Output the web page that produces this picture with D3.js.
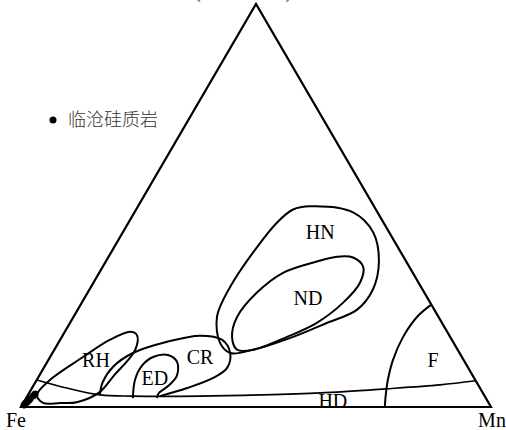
<!DOCTYPE html>
<html>
<head>
<meta charset="utf-8">
<script src="https://cdn.jsdelivr.net/npm/d3@7"></script>
<style>
  body { margin: 0; background: #fff; }
  svg { display: block; }
</style>
</head>
<body>
<svg id="chart"></svg>
<script>
const width = 506;
const height = 430;

// Vertex labels
const vertexLabels = ["Fe", "Mn", "(Ni+Co+Cu)×10"];

// Sample points: Fe, Mn, (Ni+Co+Cu)x10 in percent
const sampleFe = [99.1, 98.6, 98.1, 97.6, 97.1, 96.1, 95.4];
const sampleMn = [0.4, 0.5, 0.66, 0.8, 0.9, 1.2, 1.4];
const sampleNiCoCu = [0.5, 0.9, 1.24, 1.6, 2.0, 2.7, 3.2];

// Field boundaries as [Mn, (Ni+Co+Cu)x10] percent, Fe = 100 - both
const fieldHN = [[36.6, 49.8], [46.5, 48.3], [53.3, 43.3], [58.1, 36.1], [60.3, 29.1], [59.4, 24.1],
  [54.7, 20.9], [49.2, 17.4], [42.3, 14.2], [37.8, 13.4], [34.4, 15.9], [30.5, 22.4],
  [29.6, 29.9], [30.2, 38.3], [31.6, 45.8], [33.4, 49.0]];
const fieldND = [[52.1, 37.1], [55.4, 34.8], [56.7, 30.9], [55.6, 25.9], [52.5, 20.9], [47.9, 17.4],
  [42.3, 14.2], [38.9, 14.2], [36.2, 17.4], [34.8, 22.4], [36.0, 28.4], [39.1, 33.3],
  [44.9, 36.1], [48.6, 37.3]];
const fieldRH = [[15.7, 17.9], [17.2, 14.2], [15.8, 7.5], [14.9, 3.7], [11.3, 1.2], [7.8, 1.0],
  [4.2, 1.0], [1.9, 3.0], [2.8, 6.7], [7.0, 12.4], [10.6, 16.7], [13.9, 18.7]];
const fieldCR = [[15.2, 3.2], [14.3, 6.2], [14.6, 10.0], [17.1, 13.4], [23.0, 16.2], [29.3, 17.7],
  [34.4, 16.7], [37.8, 13.4], [39.0, 9.7], [37.3, 7.2], [33.0, 4.7], [28.2, 2.7]];
const fieldED = [[22.7, 2.2], [20.9, 6.7], [20.6, 10.2], [21.9, 12.4], [24.8, 12.9], [27.6, 11.2],
  [29.3, 7.7], [28.7, 5.2], [27.6, 3.5], [27.8, 2.2]];
const lineHD = [[0, 6.7], [7.4, 4.7], [15.3, 3.0], [22.5, 2.7], [36.7, 2.7], [49.4, 3.0],
  [61.9, 3.5], [75.2, 4.5], [86.4, 5.5], [93.5, 6.5]];
const lineF = [[74.6, 25.4], [73.1, 22.4], [72.6, 17.4], [73.3, 11.7], [74.7, 6.7], [75.9, 3.5], [77.4, 0]];

// Field names and where they sit, [Mn, (Ni+Co+Cu)x10]
const fieldNames = ["HN", "ND", "RH", "ED", "CR", "F", "HD"];
const fieldNamePos = [[41.9, 43.5], [47.5, 27.1], [10.1, 11.7], [24.9, 7.2], [31.9, 12.4], [81.8, 11.7], [65.6, 1.5]];

const svg = d3.select("#chart")
  .attr("width", width)
  .attr("height", height);

// Cartesian scales for the unit triangle
const x = d3.scaleLinear().domain([0, 1]).range([21, 491]);
const y = d3.scaleLinear().domain([0, 1]).range([407, 4]);

// ternary (mn, t in percent) -> pixel
function project(mn, t) {
  const a = mn / 100, c = t / 100;
  return [x(a + c / 2), y(c)];
}

const line = d3.line().x(d => project(d[0], d[1])[0]).y(d => project(d[0], d[1])[1]);

// Triangle frame
const corners = [[0, 0], [100, 0], [0, 100]];
svg.append("path")
  .attr("d", d3.line().x(d => project(d[0], d[1])[0]).y(d => project(d[0], d[1])[1])(corners) + "Z")
  .attr("fill", "none")
  .attr("stroke", "#000")
  .attr("stroke-width", 2.2)
  .attr("stroke-linejoin", "miter");

// Closed fields
[fieldHN, fieldND, fieldRH].forEach(f => {
  svg.append("path")
    .attr("d", line.curve(d3.curveCatmullRomClosed.alpha(0.5))(f))
    .attr("fill", "none")
    .attr("stroke", "#000")
    .attr("stroke-width", 2);
});

// Open field boundaries
[fieldCR, fieldED, lineHD, lineF].forEach((f, i) => {
  svg.append("path")
    .attr("d", line.curve(d3.curveCatmullRom.alpha(0.5))(f))
    .attr("fill", "none")
    .attr("stroke", "#000")
    .attr("stroke-width", i === 2 ? 1.6 : 2);
});

// Field names
svg.selectAll(".field-name")
  .data(fieldNames)
  .enter().append("text")
  .attr("class", "field-name")
  .attr("x", (d, i) => project(fieldNamePos[i][0], fieldNamePos[i][1])[0])
  .attr("y", (d, i) => project(fieldNamePos[i][0], fieldNamePos[i][1])[1])
  .attr("dy", "0.35em")
  .attr("text-anchor", "middle")
  .attr("font-family", "'Liberation Serif', 'Times New Roman', serif")
  .attr("font-size", 20)
  .text(d => d);

// Vertex labels
svg.append("text")
  .attr("x", 16).attr("y", 427)
  .attr("text-anchor", "middle")
  .attr("font-family", "'Liberation Serif', serif")
  .attr("font-size", 20)
  .text(vertexLabels[0]);
svg.append("text")
  .attr("x", 492).attr("y", 427)
  .attr("text-anchor", "middle")
  .attr("font-family", "'Liberation Serif', serif")
  .attr("font-size", 20)
  .text(vertexLabels[1]);
// top label sits mostly above the picture, as in the source
svg.append("text")
  .attr("x", 258).attr("y", -2)
  .attr("text-anchor", "middle")
  .attr("font-family", "'Liberation Serif', serif")
  .attr("font-size", 19)
  .text(vertexLabels[2]);

// Samples
const samples = sampleFe.map((fe, i) => ({ fe: fe, mn: sampleMn[i], t: sampleNiCoCu[i] }));
svg.selectAll(".sample")
  .data(samples)
  .enter().append("circle")
  .attr("class", "sample")
  .attr("cx", d => project(d.mn / (d.fe + d.mn + d.t) * 100, d.t / (d.fe + d.mn + d.t) * 100)[0])
  .attr("cy", d => project(d.mn / (d.fe + d.mn + d.t) * 100, d.t / (d.fe + d.mn + d.t) * 100)[1])
  .attr("r", 3.5)
  .attr("fill", "#000");

// Legend
svg.append("circle")
  .attr("cx", 53).attr("cy", 120).attr("r", 3.5)
  .attr("fill", "#000");
svg.append("text")
  .attr("x", 68).attr("y", 120)
  .attr("dy", "0.36em")
  .attr("font-family", "'Noto Sans CJK SC', sans-serif")
  .attr("font-size", 18)
  .attr("font-weight", 300)
  .attr("fill", "#333")
  .text("临沧硅质岩");
</script>
</body>
</html>
